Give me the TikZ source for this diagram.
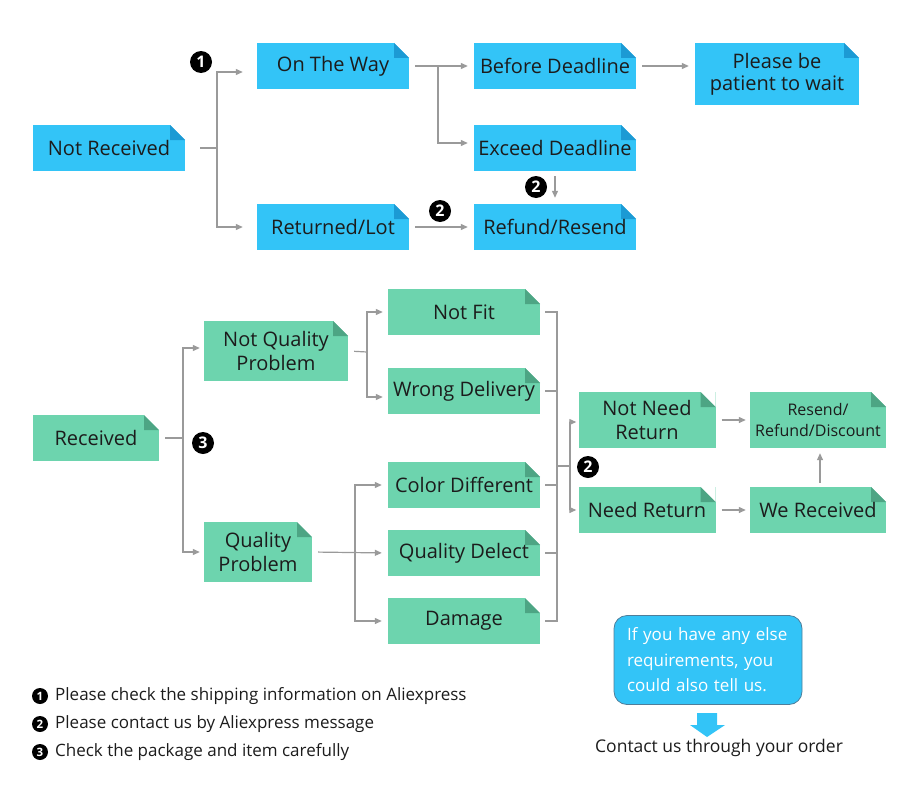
\documentclass[tikz,border=0pt]{standalone}
\usepackage{fontspec}
\setmainfont{Open Sans}
\usetikzlibrary{arrows.meta}
\definecolor{bfill}{HTML}{33C4F7}
\definecolor{bfold}{HTML}{1C9AD4}
\definecolor{gfill}{HTML}{6DD4AE}
\definecolor{gfold}{HTML}{4DA584}
\definecolor{lgray}{HTML}{9A9A9A}
\definecolor{txt}{HTML}{1C1C1C}
\definecolor{cborder}{HTML}{4F7E9A}
\tikzset{
  fold/.style={path picture={
    \fill[white] ([xshift=-15pt]path picture bounding box.north east) -- (path picture bounding box.north east) -- ([yshift=-15pt]path picture bounding box.north east) -- cycle;
    \fill[#1] ([xshift=-15pt]path picture bounding box.north east) -- ([xshift=-15pt,yshift=-15pt]path picture bounding box.north east) -- ([yshift=-15pt]path picture bounding box.north east) -- cycle;
  }},
  box/.style={rectangle, inner sep=0pt, text=txt, font=\fontsize{20}{22}\selectfont, align=center},
  bbox/.style={box, fill=bfill, fold=bfold},
  gbox/.style={box, fill=gfill, fold=gfold},
  ln/.style={draw=lgray, line width=1.2pt},
  arr/.style={ln, -{Triangle[length=7pt,width=6pt]}},
  num/.style={circle, fill=black, text=white, inner sep=0pt, minimum size=22pt, font=\fontsize{16}{16}\selectfont\bfseries},
  lnum/.style={circle, fill=black, text=white, inner sep=0pt, minimum size=16pt, font=\fontsize{11.5}{11.5}\selectfont\bfseries},
  legend/.style={anchor=west, inner sep=0pt, text=txt, font=\fontsize{17}{19}\selectfont},
}
\begin{document}
\begin{tikzpicture}[x=1pt,y=-1pt]
\useasboundingbox (0,0) rectangle (920,800);
% ---------- top (blue) ----------
\node[bbox, minimum width=152pt, minimum height=46pt] (nr) at (109,148) {Not Received};
\node[bbox, minimum width=152pt, minimum height=46pt] (otw) at (333,66) {On The Way};
\node[bbox, minimum width=162pt, minimum height=46pt] (bd) at (555,66) {Before Deadline};
\node[bbox, minimum width=164pt, minimum height=62pt, font=\fontsize{20}{22}\selectfont] (pat) at (777,74) {Please be\\patient to wait};
\node[bbox, minimum width=162pt, minimum height=46pt] (ed) at (555,148) {Exceed Deadline};
\node[bbox, minimum width=152pt, minimum height=46pt] (rl) at (333,227) {Returned/Lot};
\node[bbox, minimum width=162pt, minimum height=46pt] (rr) at (555,227) {Refund/Resend};

\coordinate (j1) at (217,148);
\coordinate (j2) at (438,66);
\draw[ln, shorten <=15pt] (nr.east) -- (j1);
\draw[arr, shorten >=14pt] (j1) |- ([yshift=-6pt]otw.west);
\draw[arr, shorten >=14pt] (j1) |- (rl.west);
\draw[ln, shorten <=6pt] (otw.east) -- (j2);
\draw[arr, shorten >=6pt] (j2) -- (bd.west);
\draw[arr, shorten >=6pt] (j2) |- ([yshift=5pt]ed.west);
\draw[arr, shorten <=6pt, shorten >=6pt] (bd.east) -- (bd.east -| pat.west);
\draw[arr, shorten <=5pt, shorten >=6pt] (ed.south) -- (rr.north);
\draw[arr, shorten <=6pt, shorten >=6pt] (rl.east) -- (rr.west);
\node[num] (n1) at (201,62) {1};
\node[num] (n2a) at (536,187) {2};
\node[num] (n2b) at (440,211) {2};

% ---------- green ----------
\node[gbox, minimum width=126pt, minimum height=46pt] (rec) at (96,438) {Received};
\node[gbox, minimum width=144pt, minimum height=60pt, font=\fontsize{20}{24}\selectfont] (nqp) at (276,351) {Not Quality\\Problem};
\node[gbox, minimum width=108pt, minimum height=60pt, font=\fontsize{20}{24}\selectfont] (qp) at (258,552) {Quality\\Problem};
\node[gbox, minimum width=152pt, minimum height=46pt] (nf) at (464,312) {Not Fit};
\node[gbox, minimum width=152pt, minimum height=46pt] (wd) at (464,391) {Wrong Delivery};
\node[gbox, minimum width=152pt, minimum height=46pt] (cd) at (464,485) {Color Different};
\node[gbox, minimum width=152pt, minimum height=46pt] (qd) at (464,553) {Quality Delect};
\node[gbox, minimum width=152pt, minimum height=46pt] (dm) at (464,621) {Damage};
\node[gbox, minimum width=137pt, minimum height=56pt, font=\fontsize{20}{24}\selectfont] (nnr) at (647,420) {Not Need\\Return};
\node[gbox, minimum width=137pt, minimum height=46pt] (ner) at (647,510) {Need Return};
\node[gbox, minimum width=136pt, minimum height=56pt, font=\fontsize{16}{21}\selectfont] (rrd) at (818,420) {Resend/\\Refund/Discount};
\node[gbox, minimum width=136pt, minimum height=46pt] (wr) at (818,510) {We Received};

\coordinate (j3) at (183,438);
\coordinate (j4) at (367,352);
\coordinate (j5) at (355,553);
\coordinate (j6) at (557,466);
\coordinate (j7) at (570,466);
\draw[ln, shorten <=6pt] (rec.east) -- (j3);
\draw[arr, shorten >=4pt] (j3) |- ([yshift=3pt]nqp.west);
\draw[arr, shorten >=4pt] (j3) |- (qp.west);
\draw[ln, shorten <=6pt] (nqp.east) -- (j4);
\draw[arr, shorten >=5pt] (j4) |- (nf.west);
\draw[arr, shorten >=5pt] (j4) |- ([yshift=-6pt]wd.west);
\draw[arr, shorten <=6pt, shorten >=6pt] (qp.east) -- (qd.west);
\draw[arr, shorten >=6pt] (j5) |- (cd.west);
\draw[arr, shorten >=6pt] (j5) |- (dm.west);
\draw[ln, shorten <=5pt] (nf.east) -| (j6);
\draw[ln, shorten <=5pt] (dm.east) -| (j6);
\draw[ln, shorten <=5pt] (wd.east) -- (wd.east -| j6);
\draw[ln, shorten <=5pt] (cd.east) -- (cd.east -| j6);
\draw[ln, shorten <=5pt] (qd.east) -- (qd.east -| j6);
\draw[ln] (j6) -- (j7);
\draw[arr, shorten >=2pt] (j7) |- ([yshift=-2pt]nnr.west);
\draw[arr, shorten >=2pt] (j7) |- (ner.west);
\draw[arr, shorten <=6pt, shorten >=4pt] (nnr.east) -- (rrd.west);
\draw[arr, shorten <=6pt, shorten >=4pt] (ner.east) -- (wr.west);
\draw[arr, shorten <=4pt, shorten >=5pt] ([xshift=2pt]wr.north) -- ([xshift=2pt]rrd.south);
\node[num] (n3) at (203,443) {3};
\node[num] (n2c) at (588,467) {2};

% ---------- legend ----------
\node[lnum] (l1) at (40,696) {1};
\node[legend] (t1) at (55,696) {Please check the shipping information on Aliexpress};
\node[lnum] (l2) at (40,724) {2};
\node[legend] (t2) at (55,724) {Please contact us by Aliexpress message};
\node[lnum] (l3) at (40,752) {3};
\node[legend] (t3) at (55,752) {Check the package and item carefully};

% ---------- callout ----------
\node[rectangle, rounded corners=13pt, fill=bfill, draw=cborder, line width=0.8pt, minimum width=188pt, minimum height=89pt, text width=162pt, align=left, text=white, inner sep=0pt, font=\fontsize{17}{25.5}\selectfont] (cb) at (708,660) {If you have any else\\requirements, you\\could also tell us.};
\fill[bfill] (697,713) -- (717,713) -- (717,725) -- (725,725) -- (707,737) -- (690,725) -- (697,725) -- cycle;
\node[inner sep=0pt, text=txt, font=\fontsize{17.5}{20}\selectfont] (ct) at (719,748) {Contact us through your order};
\end{tikzpicture}
\end{document}
